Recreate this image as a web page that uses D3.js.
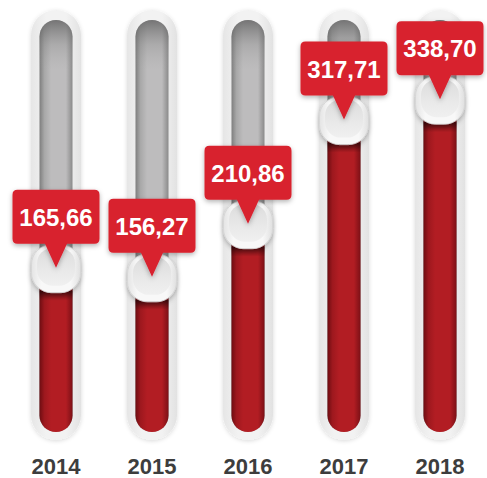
<!DOCTYPE html>
<html>
<head>
<meta charset="utf-8">
<script src="https://cdn.jsdelivr.net/npm/d3@7"></script>
<style>
  body { margin: 0; background: #fff; }
  svg { display: block; }
</style>
</head>
<body>
<svg id="chart"></svg>
<script>
let years = ["2014", "2015", "2016", "2017", "2018"];
let values = [165.66, 156.27, 210.86, 317.71, 338.70];
let valueLabels = ["165,66", "156,27", "210,86", "317,71", "338,70"];

let width = 487;
let height = 478;

let svg = d3.select("#chart")
  .attr("width", width)
  .attr("height", height);

let x = d3.scalePoint().domain(years).range([56, 440]);
let y = d3.scaleLinear().domain([0, 420]).range([429, 20]);

let tubeTop = 10, tubeBottom = 440;
let innerTop = 20, innerBottom = 432;

let defs = svg.append("defs");

function hGrad(id, stops) {
  let g = defs.append("linearGradient").attr("id", id)
    .attr("x1", "0%").attr("x2", "100%").attr("y1", "0%").attr("y2", "0%");
  stops.forEach(s => g.append("stop").attr("offset", s[0]).attr("stop-color", s[1]));
}
function vGrad(id, stops) {
  let g = defs.append("linearGradient").attr("id", id)
    .attr("x1", "0%").attr("x2", "0%").attr("y1", "0%").attr("y2", "100%");
  stops.forEach(s => g.append("stop").attr("offset", s[0]).attr("stop-color", s[1]).attr("stop-opacity", s[2] == null ? 1 : s[2]));
}

hGrad("rim", [["0%", "#e6e6e6"], ["30%", "#f2f2f2"], ["70%", "#f2f2f2"], ["100%", "#e2e2e2"]]);
hGrad("grey", [["0%", "#7e7e7e"], ["15%", "#a8a8a8"], ["35%", "#bdbcbd"], ["80%", "#bdbcbd"], ["100%", "#8a8a8a"]]);
hGrad("red", [["0%", "#6e0d12"], ["15%", "#9d181e"], ["35%", "#b21d23"], ["80%", "#b21d23"], ["100%", "#7c1016"]]);
hGrad("knob", [["0%", "#e4e4e4"], ["20%", "#f8f8f8"], ["80%", "#f8f8f8"], ["100%", "#e0e0e0"]]);
vGrad("topShade", [["0%", "#555", 0.7], ["6%", "#777", 0.25], ["12%", "#999", 0]]);
vGrad("bottomShade", [["0%", "#000", 0.5], ["100%", "#000", 0]]);
vGrad("knobFace", [["0%", "#dcdcdc"], ["60%", "#e9e9e9"], ["100%", "#f0f0f0"]]);

let shadow = defs.append("filter").attr("id", "shadow")
  .attr("x", "-20%").attr("y", "-20%").attr("width", "140%").attr("height", "150%");
shadow.append("feDropShadow").attr("dx", 0).attr("dy", 2).attr("stdDeviation", 2.5)
  .attr("flood-color", "#000").attr("flood-opacity", 0.3);

let softShadow = defs.append("filter").attr("id", "soft")
  .attr("x", "-30%").attr("y", "-10%").attr("width", "160%").attr("height", "120%");
softShadow.append("feDropShadow").attr("dx", 0).attr("dy", 1).attr("stdDeviation", 2)
  .attr("flood-color", "#000").attr("flood-opacity", 0.15);

let data = years.map((d, i) => ({ year: d, value: values[i], label: valueLabels[i] }));

let bars = svg.selectAll("g.bar").data(data).enter().append("g").attr("class", "bar");

// outer rim
bars.append("rect")
  .attr("x", d => x(d.year) - 25).attr("y", tubeTop)
  .attr("width", 50).attr("height", tubeBottom - tubeTop)
  .attr("rx", 25)
  .attr("fill", "url(#rim)")
  .attr("filter", "url(#soft)");

// empty grey channel
bars.append("rect")
  .attr("x", d => x(d.year) - 16.5).attr("y", innerTop)
  .attr("width", 33).attr("height", innerBottom - innerTop)
  .attr("rx", 16.5)
  .attr("fill", "url(#grey)");
bars.append("rect")
  .attr("x", d => x(d.year) - 16.5).attr("y", innerTop)
  .attr("width", 33).attr("height", innerBottom - innerTop)
  .attr("rx", 16.5)
  .attr("fill", "url(#topShade)");

// red fill
bars.append("rect")
  .attr("x", d => x(d.year) - 16.5).attr("y", d => y(d.value))
  .attr("width", 33).attr("height", d => innerBottom - y(d.value))
  .attr("rx", 16.5)
  .attr("fill", "url(#red)");
bars.append("rect")
  .attr("x", d => x(d.year) - 16.5).attr("y", d => y(d.value) + 23)
  .attr("width", 33).attr("height", 10)
  .attr("fill", "url(#bottomShade)");

// knob
bars.append("rect")
  .attr("x", d => x(d.year) - 24.5).attr("y", d => y(d.value) - 23)
  .attr("width", 49).attr("height", 48)
  .attr("rx", 20)
  .attr("fill", "url(#knob)")
  .attr("stroke", "#d6d6d6").attr("stroke-width", 0.8)
  .attr("filter", "url(#shadow)");
bars.append("rect")
  .attr("x", d => x(d.year) - 19).attr("y", d => y(d.value) - 20)
  .attr("width", 38).attr("height", 38)
  .attr("rx", 16)
  .attr("fill", "url(#knobFace)");

// callout box with pointer
function callout(d) {
  let cx = x(d.year), tip = y(d.value);
  let bottom = tip - 24, top = tip - 78, w = 87, r = 5;
  let l = cx - w / 2, rt = cx + w / 2;
  let p = d3.path();
  p.moveTo(l + r, top);
  p.lineTo(rt - r, top);
  p.quadraticCurveTo(rt, top, rt, top + r);
  p.lineTo(rt, bottom - r);
  p.quadraticCurveTo(rt, bottom, rt - r, bottom);
  p.lineTo(cx + 11, bottom);
  p.lineTo(cx, tip);
  p.lineTo(cx - 11, bottom);
  p.lineTo(l + r, bottom);
  p.quadraticCurveTo(l, bottom, l, bottom - r);
  p.lineTo(l, top + r);
  p.quadraticCurveTo(l, top, l + r, top);
  p.closePath();
  return p.toString();
}

bars.append("path")
  .attr("d", callout)
  .attr("fill", "#d8202e")
  .attr("filter", "url(#shadow)");

bars.append("text")
  .attr("x", d => x(d.year))
  .attr("y", d => y(d.value) - 42)
  .attr("text-anchor", "middle")
  .attr("font-family", "Liberation Sans, Arial, sans-serif")
  .attr("font-weight", "bold")
  .attr("font-size", 24)
  .attr("fill", "#fff")
  .text(d => d.label);

// year labels
svg.append("g").selectAll("text").data(years).enter().append("text")
  .attr("x", d => x(d))
  .attr("y", 474)
  .attr("text-anchor", "middle")
  .attr("font-family", "Liberation Sans, Arial, sans-serif")
  .attr("font-weight", "bold")
  .attr("font-size", 22)
  .attr("fill", "#3d3d3d")
  .text(d => d);
</script>
</body>
</html>
